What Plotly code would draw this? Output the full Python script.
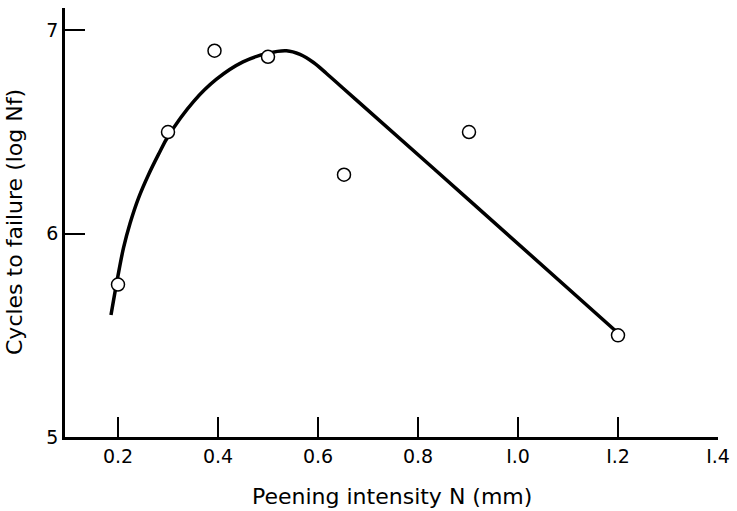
import plotly.graph_objects as go

# measured points
intensity = [0.2, 0.3, 0.393, 0.5, 0.652, 0.902, 1.2]
log_nf = [5.75, 6.50, 6.90, 6.87, 6.29, 6.50, 5.50]

# hand-drawn trend curve
curve_x = [0.186, 0.199, 0.211, 0.224, 0.241, 0.261, 0.281, 0.30, 0.351, 0.397,
           0.45, 0.50, 0.537, 0.564, 0.591, 0.617, 0.644, 0.677, 0.90, 1.196]
curve_y = [5.60, 5.78, 5.93, 6.05, 6.175, 6.29, 6.39, 6.478, 6.65, 6.76,
           6.845, 6.888, 6.90, 6.882, 6.842, 6.788, 6.729, 6.657, 6.17, 5.52]

x_ticks = [0.2, 0.4, 0.6, 0.8, 1.0, 1.2, 1.4]
x_labels = ["0.2", "0.4", "0.6", "0.8", "I.0", "I.2", "I.4"]
y_ticks = [5, 6, 7]

font = "DejaVu Sans"

fig = go.Figure()

fig.add_trace(go.Scatter(x=curve_x, y=curve_y, mode="lines",
                         line=dict(color="black", width=3.5, shape="spline", smoothing=1),
                         hoverinfo="skip"))

fig.add_trace(go.Scatter(x=intensity, y=log_nf, mode="markers",
                         marker=dict(size=13, color="white",
                                     line=dict(color="black", width=1.5))))

fig.update_xaxes(range=[0.094, 1.4], tickvals=x_ticks, ticktext=x_labels,
                 ticks="inside", ticklen=20, tickwidth=1.5, tickcolor="black",
                 showline=True, linecolor="black", linewidth=2.5,
                 showgrid=False, zeroline=False, automargin=False,
                 tickfont=dict(family=font, size=19, color="black"))
fig.update_yaxes(range=[5, 7.11], tickvals=y_ticks,
                 ticks="inside", ticklen=20, tickwidth=1.5, tickcolor="black",
                 showline=True, linecolor="black", linewidth=2.5,
                 showgrid=False, zeroline=False, automargin=False,
                 tickfont=dict(family=font, size=19, color="black"))

fig.add_annotation(text="Peening intensity N (mm)", xref="paper", yref="paper",
                   x=0.5, y=0, xanchor="center", yanchor="top", yshift=-45,
                   showarrow=False, font=dict(family=font, size=22, color="black"))
fig.add_annotation(text="Cycles to failure (log Nf)", xref="paper", yref="paper",
                   x=0, y=0.5, xanchor="right", yanchor="middle", xshift=-36,
                   textangle=-90, showarrow=False,
                   font=dict(family=font, size=22, color="black"))

fig.update_layout(width=737, height=511, showlegend=False,
                  plot_bgcolor="white", paper_bgcolor="white",
                  margin=dict(l=65, r=19, t=8, b=74))

fig.write_html("out.html", config={"displayModeBar": False},
               post_script="document.body.style.margin='0px';")
